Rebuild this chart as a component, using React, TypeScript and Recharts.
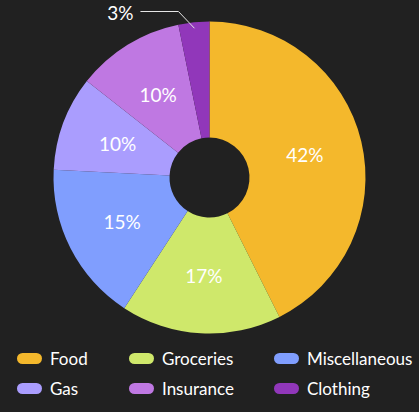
import { PieChart, Pie, Cell } from 'recharts'

const categories = ['Food', 'Groceries', 'Miscellaneous', 'Gas', 'Insurance', 'Clothing']
const shares = [42.6, 16.6, 16.6, 9.8, 11.2, 3.2]
const labels = ['42%', '17%', '15%', '10%', '10%', '3%']
const colors = ['#F4B82C', '#CFE86B', '#809EFE', '#AA9DFE', '#BF78E2', '#9137BA']

const data = categories.map((name, i) => ({ name, value: shares[i], label: labels[i] }))

const RAD = Math.PI / 180
const FONT = 'Lato, "Open Sans", sans-serif'

function renderLabel(props: any) {
  const { cx, cy, midAngle, innerRadius, outerRadius, percent, index } = props
  const text = labels[index]
  if (percent < 0.05) {
    // small slice: leader line out to the left
    const r0 = outerRadius - 6
    const sx = cx + r0 * Math.cos(-midAngle * RAD)
    const sy = cy + r0 * Math.sin(-midAngle * RAD)
    const ex = sx - 16
    const ey = cy - outerRadius - 10
    const tx = ex - 38
    return (
      <g>
        <polyline
          points={`${sx},${sy} ${ex},${ey} ${tx},${ey}`}
          fill="none"
          stroke="#e6e6e6"
          strokeWidth={1}
        />
        <text x={tx - 7} y={ey + 1} fill="#fff" fontSize={19} fontFamily={FONT} textAnchor="end" dominantBaseline="central">
          {text}
        </text>
      </g>
    )
  }
  const r = innerRadius + (outerRadius - innerRadius) * 0.5
  const x = cx + r * Math.cos(-midAngle * RAD)
  const y = cy + r * Math.sin(-midAngle * RAD)
  return (
    <text x={x} y={y} fill="#fff" fontSize={19} fontFamily={FONT} textAnchor="middle" dominantBaseline="central">
      {text}
    </text>
  )
}

function ChartLegend() {
  return (
    <div
      style={{
        position: 'absolute',
        top: 349,
        left: 17,
        display: 'grid',
        gridTemplateColumns: '112px 145px auto',
        rowGap: 12,
        fontFamily: FONT,
        fontSize: 17,
        color: '#fff',
      }}
    >
      {data.map((d, i) => (
        <div key={d.name} style={{ display: 'flex', alignItems: 'center', height: 18 }}>
          <span
            style={{
              display: 'inline-block',
              width: 25,
              height: 11,
              borderRadius: 6,
              background: colors[i],
              marginRight: 8,
            }}
          />
          <span>{d.name}</span>
        </div>
      ))}
    </div>
  )
}

export default function App() {
  return (
    <div style={{ position: 'fixed', top: 0, left: 0, width: 419, height: 412, background: '#212121' }}>
      <PieChart width={419} height={412} margin={{ top: 0, right: 0, bottom: 0, left: 0 }}>
        <Pie
          data={data}
          dataKey="value"
          nameKey="name"
          cx={209.5}
          cy={177.5}
          innerRadius={40}
          outerRadius={156}
          startAngle={90}
          endAngle={-270}
          stroke="none"
          label={renderLabel}
          labelLine={false}
          isAnimationActive={false}
        >
          {data.map((d, i) => (
            <Cell key={d.name} fill={colors[i]} />
          ))}
        </Pie>
      </PieChart>
      <ChartLegend />
    </div>
  )
}
